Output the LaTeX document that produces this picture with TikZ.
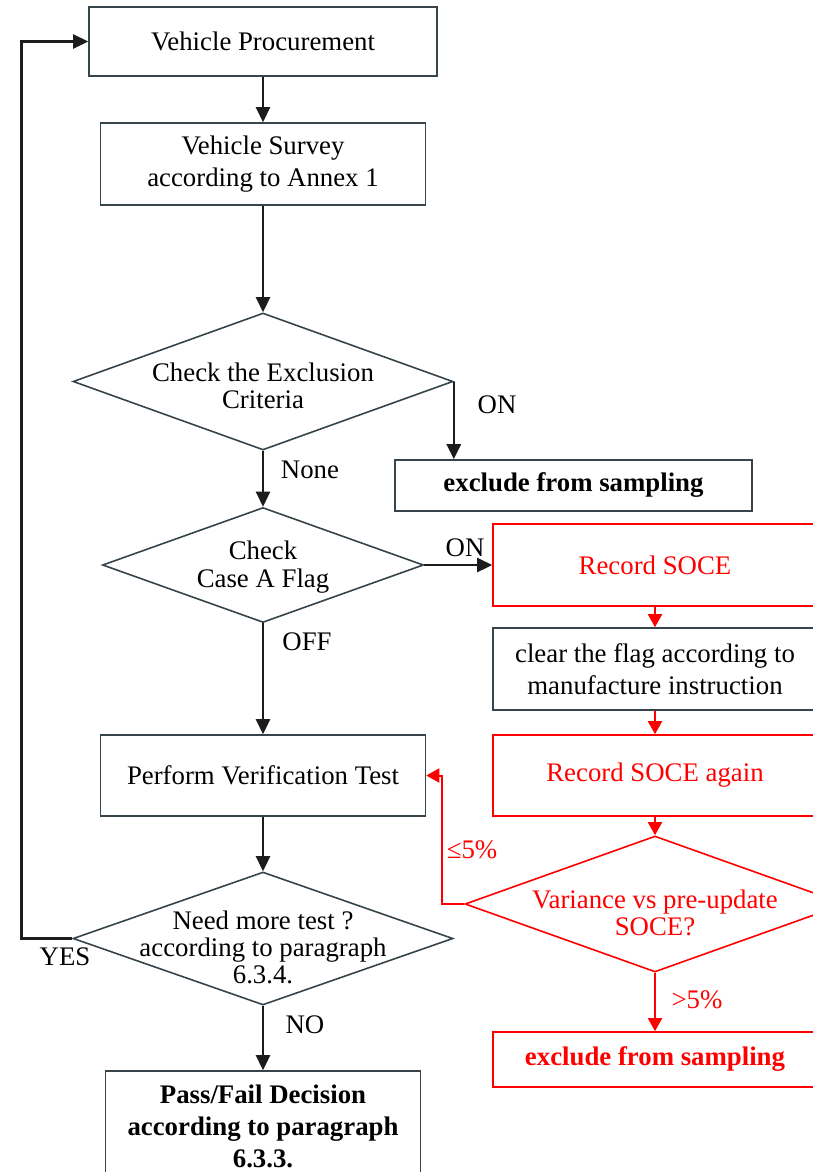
\documentclass[tikz,border=0pt]{standalone}
\usepackage{fontspec}
\setmainfont{Liberation Serif}
\usetikzlibrary{shapes.geometric,arrows.meta}
\definecolor{edgegray}{HTML}{37444C}
\definecolor{arrowblack}{HTML}{1C1C1C}
\tikzset{box/.style={draw=edgegray, line width=0.8pt, rectangle, align=center, inner sep=0pt, font=\fontsize{13.4}{16.2}\selectfont},
  boldbox/.style={box, font=\fontsize{13.4}{16}\selectfont\bfseries},
  redbox/.style={box, draw=red, text=red},
  choice/.style={draw=edgegray, line width=0.8pt, diamond, inner sep=0pt},
  redchoice/.style={choice, draw=red},
  choicetext/.style={align=center, inner sep=0pt, font=\fontsize{13.4}{13.6}\selectfont},
  arr/.style={draw=arrowblack, line width=1.3pt, -{Triangle[length=7.5pt,width=7pt]}},
  redarr/.style={draw=red, line width=1pt, -{Triangle[length=6.5pt,width=7pt]}},
  tag/.style={inner sep=0pt, font=\fontsize{13.4}{16}\selectfont}}
\begin{document}
\begin{tikzpicture}[x=0.5pt, y=-0.5pt]
  \useasboundingbox (0,0) rectangle (813,1172);
  % main column
  \node [box, minimum width=174pt, minimum height=34.5pt] (proc) at (263,41.5) {Vehicle Procurement};
  \node [box, minimum width=162.5pt, minimum height=41pt] (survey) at (263,164) {Vehicle Survey\\according to Annex 1};
  \node [choice, minimum width=190pt, minimum height=68.5pt,
    label={[choicetext, yshift=-2pt]center:{Check the Exclusion\\Criteria}}] (excl) at (263,381.5) {};
  \node [choice, minimum width=160.5pt, minimum height=57.5pt,
    label={[choicetext, yshift=-1pt]center:{Check\\Case A Flag}}] (flag) at (263,565) {};
  \node [box, minimum width=162.5pt, minimum height=40.5pt] (perf) at (263,775.5) {Perform Verification Test};
  \node [choice, minimum width=190pt, minimum height=66.5pt,
    label={[choicetext, yshift=-4.5pt]center:{Need more test ?\\according to paragraph\\6.3.4.}}] (more) at (263,938.5) {};
  \node [boldbox, minimum width=157.5pt, minimum height=55pt] (pass) at (263,1126) {Pass/Fail Decision\\according to paragraph\\6.3.3.};
  % right side
  \node [boldbox, minimum width=178.5pt, minimum height=25.5pt] (skip1) at (573.5,485.5) {exclude from sampling};
  \node [redbox, minimum width=162pt, minimum height=41pt] (soce1) at (655,565) {Record SOCE};
  \node [box, minimum width=162pt, minimum height=41pt] (clear) at (655,669) {clear the flag according to\\manufacture instruction};
  \node [redbox, minimum width=162pt, minimum height=40.5pt] (soce2) at (655,775.5) {Record SOCE again};
  \node [redchoice, minimum width=190pt, minimum height=68pt,
    label={[choicetext, text=red, yshift=-4.5pt]center:{Variance vs pre-update\\SOCE?}}] (vary) at (655,904) {};
  \node [boldbox, draw=red, text=red, minimum width=162pt, minimum height=27.5pt] (skip2) at (655,1059.5) {exclude from sampling};
  % connectors
  \draw [arr] (proc) -- (survey);
  \draw [arr] (survey) -- (excl);
  \draw [arr] (excl.east) -- (excl.east |- skip1.north);
  \draw [arr] (excl) -- (flag);
  \draw [arr] (flag) -- (soce1);
  \draw [arr] (flag) -- (perf);
  \draw [arr] (perf) -- (more);
  \draw [arr] (more) -- (pass);
  \draw [arr] (more.west) -- ++(-51,0) |- (proc.west);
  \draw [redarr] (soce1) -- (clear);
  \draw [redarr] (clear) -- (soce2);
  \draw [redarr] (soce2) -- (vary);
  \draw [redarr] (vary.west) -- ++(-22,0) |- (perf.east);
  \draw [redarr] (vary) -- (skip2);
  % branch labels
  \node [tag] (on1) at (497,405) {ON};
  \node [tag] (none) at (310,470) {None};
  \node [tag] (on2) at (465,548) {ON};
  \node [tag] (off) at (307,642) {OFF};
  \node [tag, text=red] (low) at (472,850) {≤5\%};
  \node [tag, text=red] (high) at (697,1000) {>5\%};
  \node [tag] (yes) at (65,957) {YES};
  \node [tag] (no) at (305,1025) {NO};
\end{tikzpicture}
\end{document}
